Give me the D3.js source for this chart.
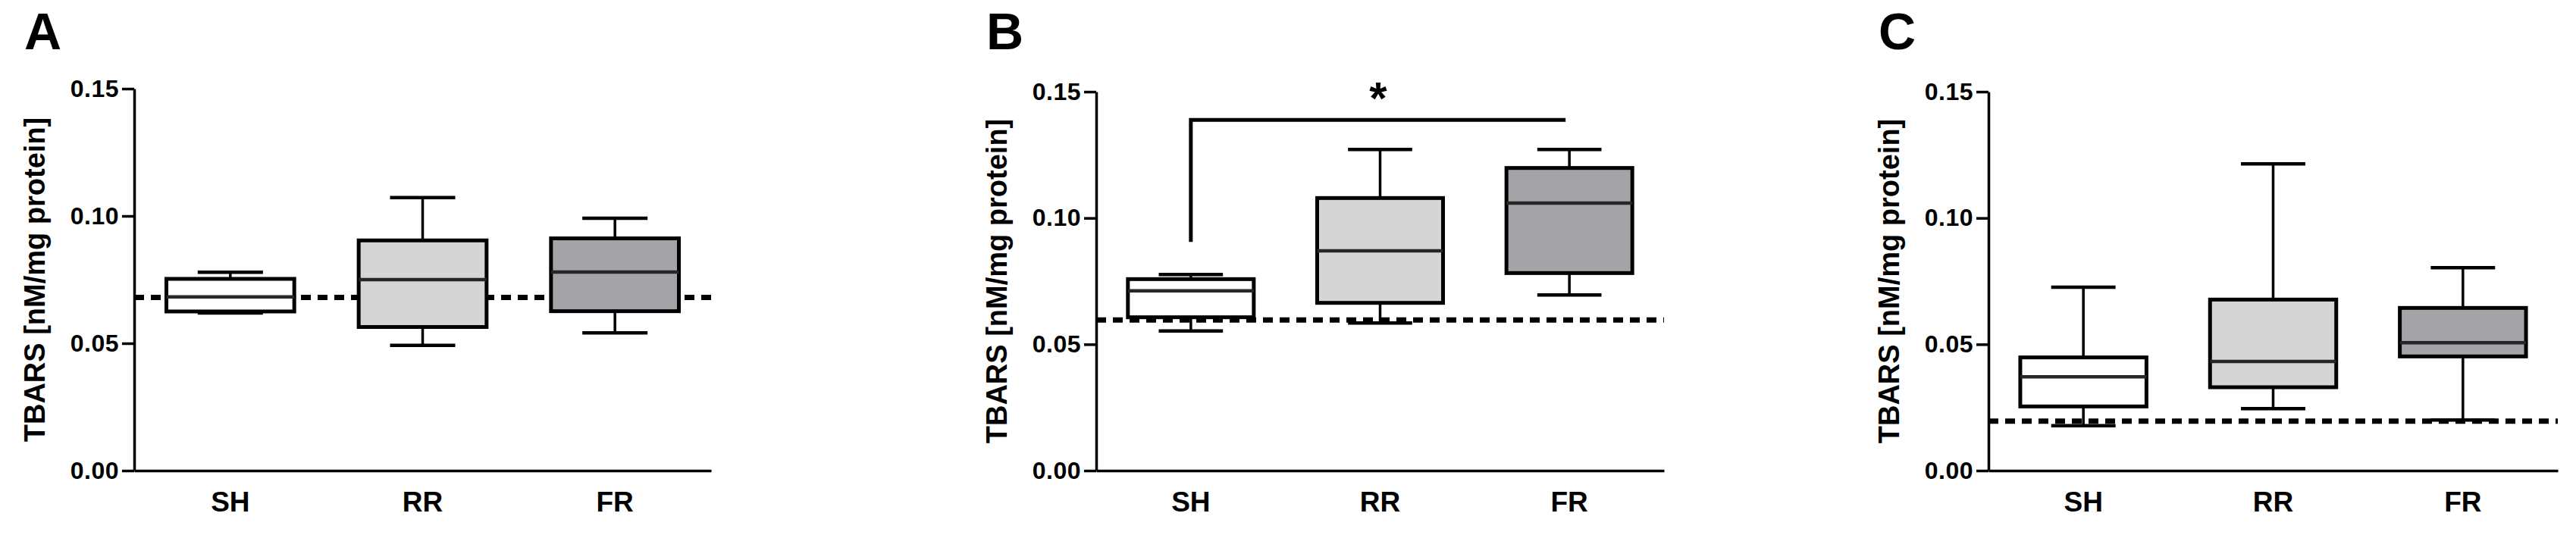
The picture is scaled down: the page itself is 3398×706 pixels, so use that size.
<!DOCTYPE html>
<html>
<head>
<meta charset="utf-8">
<script src="https://cdn.jsdelivr.net/npm/d3@7"></script>
<style>
  html, body { margin: 0; padding: 0; background: #ffffff; }
  svg { display: block; }
  text { font-family: "Liberation Sans", Arial, Helvetica, sans-serif; font-weight: bold; fill: #000; }
</style>
</head>
<body>
<svg id="chart" width="3398" height="706"></svg>
<script>
// ---------------- data ----------------
const categories = ["SH", "RR", "FR"];
const panelLabels = ["A", "B", "C"];
const yTickValues = [0.00, 0.05, 0.10, 0.15];
const yTitle = "TBARS [nM/mg protein]";

// Panel A (per category: SH, RR, FR)
const lowA  = [0.0619, 0.0492, 0.0541];
const q1A   = [0.0625, 0.0564, 0.0626];
const medA  = [0.0682, 0.0750, 0.0780];
const q3A   = [0.0753, 0.0904, 0.0912];
const highA = [0.0779, 0.1072, 0.0991];
const refA  = 0.0680;

// Panel B
const lowB  = [0.0553, 0.0584, 0.0695];
const q1B   = [0.0607, 0.0664, 0.0782];
const medB  = [0.0712, 0.0870, 0.1059];
const q3B   = [0.0758, 0.1079, 0.1198];
const highB = [0.0776, 0.1271, 0.1271];
const refB  = 0.0596;
// significance bracket in B: SH vs FR
const sigB = { from: "SH", to: "FR", level: 0.1388, drop: 0.0905, mark: "*" };

// Panel C
const lowC  = [0.0178, 0.0245, 0.0200];
const q1C   = [0.0254, 0.0330, 0.0452];
const medC  = [0.0371, 0.0432, 0.0506];
const q3C   = [0.0448, 0.0677, 0.0644];
const highC = [0.0726, 0.1214, 0.0803];
const refC  = 0.0196;

const fills = ["#ffffff", "#d5d5d5", "#a4a3a8"];

// ---------------- layout ----------------
const layout = [
  { x0: 177,  x1: 938,  yTop: 117 },
  { x0: 1446, x1: 2195, yTop: 121 },
  { x0: 2623, x1: 3374, yTop: 121 }
];
const yBottom = 621;

const panels = [
  { low: lowA, q1: q1A, med: medA, q3: q3A, high: highA, ref: refA, sig: null },
  { low: lowB, q1: q1B, med: medB, q3: q3B, high: highB, ref: refB, sig: sigB },
  { low: lowC, q1: q1C, med: medC, q3: q3C, high: highC, ref: refC, sig: null }
];

const svg = d3.select("#chart");

panels.forEach((p, i) => {
  const L = layout[i];
  const g = svg.append("g");

  const y = d3.scaleLinear().domain([0, 0.15]).range([yBottom, L.yTop]);
  const x = d3.scaleBand().domain(categories).range([L.x0, L.x1]).paddingInner(0).paddingOuter(0);
  const boxW = x.bandwidth() * 0.665;
  const capW = boxW * 0.51;
  const cx = c => x(c) + x.bandwidth() / 2;

  // panel letter
  g.append("text")
    .attr("x", L.x0 - 145)
    .attr("y", 65)
    .style("font-size", "68px")
    .text(panelLabels[i]);

  // y title
  g.append("text")
    .attr("transform", `translate(${L.x0 - 118},${(yBottom + L.yTop) / 2}) rotate(-90)`)
    .attr("text-anchor", "middle")
    .style("font-size", "38px")
    .text(yTitle);

  // y axis
  const yAxis = d3.axisLeft(y)
    .tickValues(yTickValues)
    .tickFormat(d3.format(".2f"))
    .tickSize(16)
    .tickSizeOuter(0)
    .tickPadding(4);
  const ya = g.append("g").attr("transform", `translate(${L.x0},0)`).call(yAxis);
  ya.select(".domain").attr("stroke", "#000").attr("stroke-width", 3.5);
  ya.selectAll(".tick line").attr("stroke", "#000").attr("stroke-width", 3.5);
  ya.selectAll(".tick text")
    .style("font-size", "32px")
    .style("letter-spacing", "0.5px")
    .attr("fill", "#000");

  // x axis
  const xAxis = d3.axisBottom(x).tickSize(0).tickSizeOuter(0).tickPadding(28);
  const xa = g.append("g").attr("transform", `translate(0,${yBottom})`).call(xAxis);
  xa.select(".domain").attr("stroke", "#000").attr("stroke-width", 3.5);
  xa.selectAll(".tick text").style("font-size", "37px").attr("fill", "#000");

  // reference (dashed) line
  g.append("line")
    .attr("x1", L.x0).attr("x2", L.x1)
    .attr("y1", y(p.ref)).attr("y2", y(p.ref))
    .attr("stroke", "#000")
    .attr("stroke-width", 7)
    .attr("stroke-dasharray", "13,9");

  const rows = categories.map((c, k) => ({
    c, k, low: p.low[k], q1: p.q1[k], med: p.med[k], q3: p.q3[k], high: p.high[k]
  }));

  const bx = g.selectAll("g.box").data(rows).enter().append("g").attr("class", "box");

  // whisker stems
  bx.append("line")
    .attr("x1", d => cx(d.c)).attr("x2", d => cx(d.c))
    .attr("y1", d => y(d.high)).attr("y2", d => y(d.low))
    .attr("stroke", "#000").attr("stroke-width", 3.5);
  // caps
  bx.append("line")
    .attr("x1", d => cx(d.c) - capW / 2).attr("x2", d => cx(d.c) + capW / 2)
    .attr("y1", d => y(d.high)).attr("y2", d => y(d.high))
    .attr("stroke", "#000").attr("stroke-width", 4.5);
  bx.append("line")
    .attr("x1", d => cx(d.c) - capW / 2).attr("x2", d => cx(d.c) + capW / 2)
    .attr("y1", d => y(d.low)).attr("y2", d => y(d.low))
    .attr("stroke", "#000").attr("stroke-width", 4.5);
  // boxes
  bx.append("rect")
    .attr("x", d => cx(d.c) - boxW / 2)
    .attr("width", boxW)
    .attr("y", d => y(d.q3))
    .attr("height", d => y(d.q1) - y(d.q3))
    .attr("fill", d => fills[d.k])
    .attr("stroke", "#000").attr("stroke-width", 5);
  // medians
  bx.append("line")
    .attr("x1", d => cx(d.c) - boxW / 2).attr("x2", d => cx(d.c) + boxW / 2)
    .attr("y1", d => y(d.med)).attr("y2", d => y(d.med))
    .attr("stroke", "#262626").attr("stroke-width", 4.5);

  // significance bracket
  if (p.sig) {
    const s = p.sig;
    const xa1 = cx(s.from), xa2 = cx(s.to) - 5;
    g.append("path")
      .attr("d", d3.line()([[xa1, y(s.drop)], [xa1, y(s.level)], [xa2, y(s.level)]]))
      .attr("fill", "none")
      .attr("stroke", "#000").attr("stroke-width", 5);
    g.append("text")
      .attr("x", (xa1 + xa2) / 2)
      .attr("y", y(s.level) - 8)
      .attr("text-anchor", "middle")
      .style("font-size", "60px")
      .text(s.mark);
  }
});
</script>
</body>
</html>
